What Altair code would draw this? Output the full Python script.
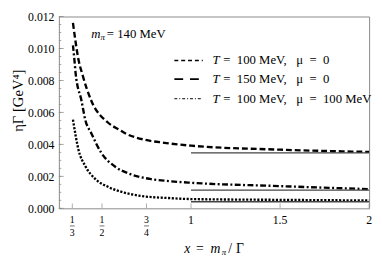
import altair as alt
import pandas as pd

# ---- data ----
x_top = [0.337, 0.37, 0.388, 0.44, 0.53, 0.60, 0.63, 0.74, 0.85, 1.0, 1.5, 2.0]
v_top = [0.0116, 0.0092, 0.00845, 0.00673, 0.0054, 0.0049, 0.0047, 0.00429, 0.0041, 0.00392, 0.00367, 0.00353]

x_mid = [0.337, 0.346, 0.352, 0.385, 0.407, 0.44, 0.495, 0.571, 0.659, 0.769, 0.879, 1.0, 1.5, 2.0]
v_mid = [0.0102, 0.0092, 0.00845, 0.00673, 0.0055, 0.0047, 0.00349, 0.00263, 0.00214, 0.00184, 0.0017, 0.0016, 0.00139, 0.0012]

x_bot = [0.337, 0.368, 0.407, 0.462, 0.533, 0.626, 0.736, 0.863, 1.0, 1.5, 2.0]
v_bot = [0.00555, 0.00367, 0.00263, 0.00184, 0.00135, 0.00098, 0.00075, 0.00065, 0.00058, 0.00053, 0.00049]

ref_x = [1.0, 2.0]
ref_levels = [0.00347, 0.00114, 0.00041]

y_major = [0.0, 0.002, 0.004, 0.006, 0.008, 0.010, 0.012]
y_minor = [i * 0.0005 for i in range(25)]
x_major = [1/3, 1/2, 3/4, 1.0, 1.5, 2.0]
x_frac_vals = [1/3, 1/2, 3/4]
x_frac_num = ["1", "1", "3"]
x_frac_den = ["3", "2", "4"]
x_int_vals = [1.0, 1.5, 2.0]
x_int_labels = ["1", "1.5", "2"]

legend_rest = [
    "=\u2002100 MeV,\u2002 μ\u2002=\u20020",
    "=\u2002150 MeV,\u2002 μ\u2002=\u20020",
    "=\u2002100 MeV,\u2002 μ\u2002=\u2002100 MeV",
]

SERIF = "Liberation Serif"
W, H = 317, 196

xs = alt.Scale(domain=[0.258, 2.0], nice=False, zero=False)
ys = alt.Scale(domain=[0, 0.012], nice=False, zero=False)
yaxis = alt.Axis(values=y_major, format=".3f", ticks=False, domain=False, grid=False,
                 labelFont=SERIF, labelFontSize=12, labelColor="black", labelPadding=5, title=None)

def X():
    return alt.X("x:Q", scale=xs, axis=None)

def Y():
    return alt.Y("v:Q", scale=ys, axis=yaxis)

def curve(xv, vv, dash):
    df = pd.DataFrame({"x": xv, "v": vv})
    return alt.Chart(df).mark_line(color="black", strokeWidth=2.4, strokeDash=dash,
                                   interpolate="monotone").encode(x=X(), y=Y())

top = curve(x_top, v_top, [6, 3])
mid = curve(x_mid, v_mid, [6, 2.5, 2, 2.5])
bot = curve(x_bot, v_bot, [2.2, 1.6])

ref_rows = []
for i, lv in enumerate(ref_levels):
    for xv in ref_x:
        ref_rows.append({"x": xv, "v": lv, "g": i})
refs = alt.Chart(pd.DataFrame(ref_rows)).mark_line(color="#444444", strokeWidth=1.4).encode(
    x=X(), y=Y(), detail="g:N")

ymaj = alt.Chart(pd.DataFrame({"v": y_major})).mark_tick(
    orient="horizontal", size=5, thickness=1, color="#888888").encode(y=Y(), x=alt.value(2.5))
ymin = alt.Chart(pd.DataFrame({"v": y_minor})).mark_tick(
    orient="horizontal", size=2.5, thickness=1, color="#888888").encode(y=Y(), x=alt.value(1.25))
xmaj = alt.Chart(pd.DataFrame({"x": x_major})).mark_tick(
    orient="vertical", size=5, thickness=1, color="#888888").encode(x=X(), y=alt.value(H - 2.5))

frac_df = pd.DataFrame({"x": x_frac_vals, "num": x_frac_num, "den": x_frac_den})
fnum = alt.Chart(frac_df).mark_text(font=SERIF, fontSize=10, baseline="middle").encode(
    x=X(), y=alt.value(H + 12), text="num:N")
fbar = alt.Chart(frac_df).mark_tick(orient="horizontal", size=5, thickness=0.8, color="black").encode(
    x=X(), y=alt.value(H + 18))
fden = alt.Chart(frac_df).mark_text(font=SERIF, fontSize=10, baseline="middle").encode(
    x=X(), y=alt.value(H + 25), text="den:N")
int_df = pd.DataFrame({"x": x_int_vals, "lab": x_int_labels})
ilab = alt.Chart(int_df).mark_text(font=SERIF, fontSize=12, baseline="middle").encode(
    x=X(), y=alt.value(H + 12), text="lab:N")

def txt(s, x, y, size=12, italic=False, align="left", angle=None):
    kw = dict(font=SERIF, fontSize=size, align=align, baseline="middle", color="black")
    if italic:
        kw["fontStyle"] = "italic"
    if angle is not None:
        kw["angle"] = angle
    return alt.Chart(pd.DataFrame({"t": [s]})).mark_text(**kw).encode(
        x=alt.value(x), y=alt.value(y), text="t:N")

# annotations
ann = [
    txt("m", 33, 18, size=13, italic=True),
    txt("π", 42.5, 21, size=9, italic=True),
    txt("= 140 MeV", 49, 18, size=13),
]
leg_y = [45, 64, 84]
dashes = [[4, 3], [9, 7], [3, 2, 1, 2]]
widths = [1.5, 1.6, 1.0]
for ly, rest, d, w in zip(leg_y, legend_rest, dashes, widths):
    ann.append(alt.Chart(pd.DataFrame({"t": [0]})).mark_rule(color="black", strokeWidth=w, strokeDash=d).encode(
        x=alt.value(118), x2=alt.value(147), y=alt.value(ly)))
    ann.append(txt("T", 157, ly, size=13, italic=True))
    ann.append(txt(rest, 168, ly, size=13))

# axis titles
TY = 238
ann += [
    txt("x", 128, TY, size=14, italic=True),
    txt("=", 140, TY, size=14),
    txt("m", 155, TY, size=14, italic=True),
    txt("π", 166.5, TY + 3, size=9, italic=True),
    txt("/", 173, TY, size=14),
    txt("Γ", 181, TY, size=14),
    txt("ηΓ [GeV⁴]", -42, 86, size=15, align="center", angle=270),
]

chart = alt.layer(top, mid, bot, refs, ymaj, ymin, xmaj, fnum, fbar, fden, ilab, *ann).properties(
    width=W, height=H,
    autosize=alt.AutoSizeParams(type="none"),
    padding={"left": 52, "top": 6, "right": 5, "bottom": 46},
).configure_view(stroke="#888888", strokeWidth=1)

chart.save("out.html", embed_options={"renderer": "svg", "actions": False})
